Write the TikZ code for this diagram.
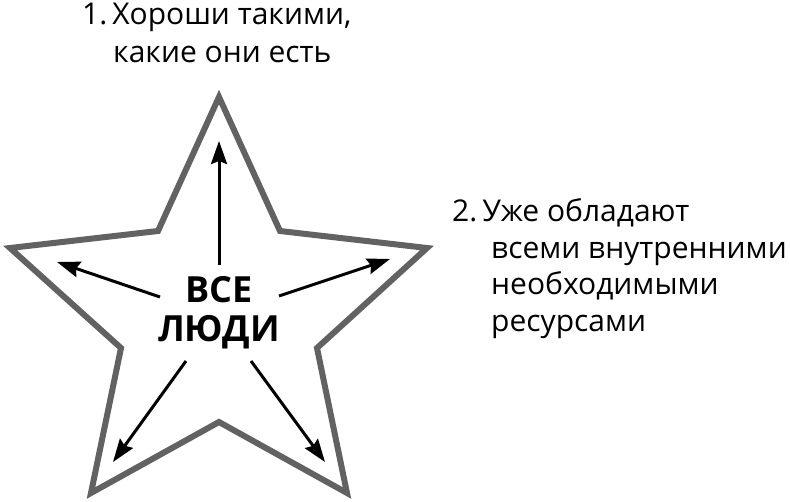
\documentclass[tikz,border=0pt]{standalone}
\usepackage{fontspec}
\setmainfont{Open Sans}
\usetikzlibrary{arrows.meta}
\definecolor{stargray}{RGB}{98,98,98}
\tikzset{
  starline/.style={draw=stargray, line width=6pt, line join=miter, miter limit=10},
  ray/.style={line width=3pt, -{Stealth[length=23pt,width=16pt,inset=3pt]}},
  lbl/.style={anchor=base west, inner sep=0pt, font=\fontsize{30}{30}\selectfont},
  center/.style={anchor=base, inner sep=0pt, font=\fontsize{36}{36}\selectfont\bfseries}
}
\begin{document}
\begin{tikzpicture}[x=1pt,y=-1pt]
\useasboundingbox (0,0) rectangle (790,502);
% star
\draw[starline] (219,97) -- (280,231) -- (427,248) -- (317,348) -- (347,493)
  -- (219,422) -- (91,493) -- (121,348) -- (10,248) -- (158,231) -- cycle;
% centre text
\node[center] (c1) at (219,303) {ВСЕ};
\node[center] (c2) at (219,342) {ЛЮДИ};
% arrow ends
\coordinate (s1) at (219,265); \coordinate (e1) at (219,141);
\coordinate (s2) at (160,297); \coordinate (e2) at (57,262);
\coordinate (s3) at (279,296); \coordinate (e3) at (390,259);
\coordinate (s4) at (186,361); \coordinate (e4) at (113,462);
\coordinate (s5) at (251,361); \coordinate (e5) at (325,462);
\draw[ray] (s1) -- (e1);
\draw[ray] (s2) -- (e2);
\draw[ray] (s3) -- (e3);
\draw[ray] (s4) -- (e4);
\draw[ray] (s5) -- (e5);
% labels
\node[lbl] (t1) at (82,25) {1.\,Хороши такими,};
\node[lbl] (t2) at (113,63) {какие они есть};
\node[lbl] (r1) at (452,222) {2.\,Уже обладают};
\node[lbl] (r2) at (491,258.5) {всеми внутренними};
\node[lbl] (r3) at (491,295) {необходимыми};
\node[lbl] (r4) at (491,331.5) {ресурсами};
\end{tikzpicture}
\end{document}
